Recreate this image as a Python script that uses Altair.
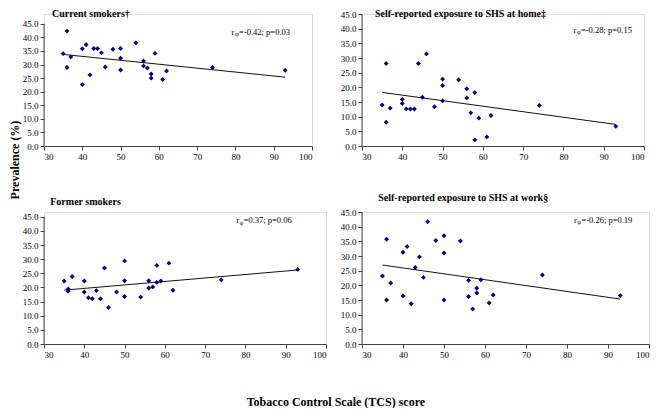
import altair as alt
import pandas as pd

# TCS score of each country (x axis), shared by the four panels
tcs_score = [35, 36, 36, 37, 40, 40, 41, 42, 43, 44, 45, 46, 48, 50, 50, 50,
             54, 56, 56, 57, 58, 58, 59, 61, 62, 74, 93]

current_smokers = [34.0, 42.3, 28.9, 32.8, 35.8, 22.6, 37.3, 26.2, 35.9, 35.9, 34.3, 29.1,
                   35.6, 35.9, 32.3, 28.0, 38.0, 31.3, 29.5, 28.7, 26.5, 25.0, 34.1,
                   24.5, 27.6, 28.9, 27.9]
shs_home = [14.0, 28.1, 8.1, 12.9, 15.9, 14.5, 12.6, 12.6, 12.6, 28.1, 16.6, 31.4,
            13.4, 22.8, 20.6, 15.4, 22.6, 19.5, 16.4, 11.3, 18.2, 2.1, 9.5,
            3.1, 10.4, 13.8, 6.7]
former_smokers = [22.3, 19.5, 18.7, 23.9, 22.3, 18.4, 16.4, 16.0, 18.9, 16.0, 26.9, 12.9,
                  18.4, 29.4, 22.4, 16.8, 16.6, 22.4, 19.8, 20.2, 27.8, 21.8, 22.3,
                  28.6, 19.0, 22.7, 26.4]
shs_work = [23.2, 35.7, 15.0, 20.8, 31.3, 16.4, 33.2, 13.7, 26.1, 29.7, 22.7, 41.7,
            35.3, 36.9, 31.0, 15.0, 35.1, 21.7, 16.2, 11.9, 19.0, 17.4, 21.9,
            14.0, 16.7, 23.5, 16.5]

panel_titles = ["Current smokers\u2020",
                "Self-reported exposure to SHS at home\u2021",
                "Former smokers",
                "Self-reported exposure to SHS at work\u00a7"]
stat_labels = ["=-0.42; p=0.03", "=-0.28; p=0.15", "=0.37; p=0.06", "=-0.26; p=0.19"]
x_ticks = [30, 40, 50, 60, 70, 80, 90, 100]
y_ticks = [0, 5, 10, 15, 20, 25, 30, 35, 40, 45]

SERIF = "Liberation Serif"
POINT_COLOR = "#000080"
AXIS_COLOR = "#444444"


def panel(values, title, stat, width, height, ytop, title_dx, title_offset, ann_x, ann_y,
          inline_title=False):
    df = pd.DataFrame({"x": tcs_score, "y": values})
    xs = alt.Scale(domain=[30, 100], nice=False, zero=False)
    ys = alt.Scale(domain=[0, ytop], nice=False)
    x_axis = alt.Axis(values=x_ticks, title=None, grid=False, tickSize=4,
                      labelFont=SERIF, labelFontSize=9, labelColor="black",
                      domainColor=AXIS_COLOR, tickColor=AXIS_COLOR, labelPadding=2)
    y_axis = alt.Axis(values=y_ticks, format=".1f", title=None, grid=False, domain=False,
                      tickSize=4, labelFont=SERIF, labelFontSize=9, labelColor="black",
                      tickColor=AXIS_COLOR, labelPadding=2)
    base = alt.Chart(df)
    pts = base.mark_point(shape="diamond", filled=True, size=24, color=POINT_COLOR,
                          opacity=1).encode(
        x=alt.X("x:Q", scale=xs, axis=x_axis),
        y=alt.Y("y:Q", scale=ys, axis=y_axis),
    )
    trend = base.transform_regression("x", "y").mark_line(
        color="#111111", strokeWidth=1.0).encode(
        x=alt.X("x:Q", scale=xs, axis=x_axis),
        y=alt.Y("y:Q", scale=ys, axis=y_axis),
    )
    one = alt.Chart(pd.DataFrame({"k": [0]}))
    yline = one.mark_rule(color=AXIS_COLOR, strokeWidth=1).encode(
        x=alt.XDatum(30, scale=xs, axis=x_axis),
        y=alt.YDatum(0, scale=ys, axis=y_axis),
        y2=alt.Y2Datum(45),
    )
    t_r = one.mark_text(text="r", font=SERIF, fontSize=8.5, align="left",
                        baseline="middle", color="black").encode(
        x=alt.XDatum(ann_x, scale=xs, axis=x_axis),
        y=alt.YDatum(ann_y, scale=ys, axis=y_axis))
    t_phi = one.mark_text(text="\u03c6", font=SERIF, fontSize=6.5, align="left",
                          baseline="middle", dx=3.4, dy=2.5, color="black").encode(
        x=alt.XDatum(ann_x, scale=xs, axis=x_axis),
        y=alt.YDatum(ann_y, scale=ys, axis=y_axis))
    t_rest = one.mark_text(text=stat, font=SERIF, fontSize=8.5, align="left",
                           baseline="middle", dx=7.5, color="black").encode(
        x=alt.XDatum(ann_x, scale=xs, axis=x_axis),
        y=alt.YDatum(ann_y, scale=ys, axis=y_axis))
    layers = [yline, trend, pts, t_r, t_phi, t_rest]
    props = dict(width=width, height=height)
    if inline_title:
        layers.append(one.mark_text(text=title, font=SERIF, fontSize=10, fontWeight="bold",
                                    align="left", baseline="middle", color="black").encode(
            x=alt.value(title_dx), y=alt.value(0)))
    else:
        props["title"] = alt.TitleParams(title, anchor="start", dx=title_dx,
                                         offset=title_offset, font=SERIF, fontSize=10,
                                         fontWeight="bold", color="black")
    return alt.layer(*layers).properties(**props)


H1 = 132
H2 = 132
p1 = panel(current_smokers, panel_titles[0], stat_labels[0], 268, H1, 48.6, 8, 0, 79.0, 42.0,
           inline_title=True)
p2 = panel(shs_home, panel_titles[1], stat_labels[1], 282, H1, 45, 13, 0, 82.5, 39.6,
           inline_title=True)
p3 = panel(former_smokers, panel_titles[2], stat_labels[2], 282, H2, 46.7, 28, 5, 77.7, 43.8)
p4 = panel(shs_work, panel_titles[3], stat_labels[3], 287, H2, 45, 38, 5, 81.7, 42.3)

row1 = alt.hconcat(p1, p2, spacing=26)
row2 = alt.hconcat(p3, p4, spacing=12)
grid = alt.vconcat(row1, row2, spacing=30).properties(
    title=alt.TitleParams("Tobacco Control Scale (TCS) score", orient="bottom",
                          anchor="middle", offset=37, font=SERIF, fontSize=12,
                          fontWeight="bold", color="black"))
chart = alt.hconcat(grid).properties(
    title=alt.TitleParams("Prevalence (%)", orient="left", anchor="middle", offset=0,
                          dx=48, font=SERIF, fontSize=12, fontWeight="bold",
                          color="black"),
    padding=0,
).configure_view(stroke=None).configure(background="white")

chart.save("out.html", embed_options={"renderer": "svg", "actions": False})
